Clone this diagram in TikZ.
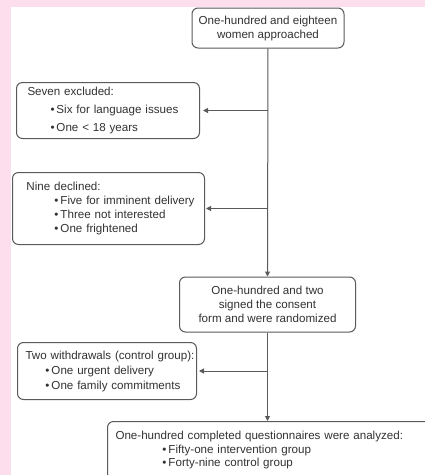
\documentclass[tikz,border=0pt]{standalone}
\usepackage{fontspec}
\setmainfont{Liberation Sans}
\usetikzlibrary{arrows.meta}
\definecolor{pinkbg}{RGB}{252,222,236}
\definecolor{linegray}{RGB}{90,90,90}
\definecolor{textgray}{RGB}{50,50,50}
\newcommand{\bul}{\textbullet\,}
\newcommand{\oneline}[1]{\mbox{#1}}
\hbadness=10000 \hfuzz=100pt
\begin{document}
\begin{tikzpicture}[x=1pt,y=-1pt,
  box/.style={draw=linegray, line width=1pt, rounded corners=6pt, fill=white,
    text=textgray, font=\fontsize{11.6}{14}\selectfont, inner ysep=0pt},
  cbox/.style={box, align=center},
  lbox/.style={box, align=left, anchor=north west},
  arr/.style={draw=linegray, line width=1pt, -{Triangle[length=5pt,width=5pt]}}]
\useasboundingbox (0,0) rectangle (425,475);
\fill[pinkbg] (0,0) rectangle (425,475);
\fill[white] (11,7) rectangle (425,475);

\node[cbox, minimum width=152pt, minimum height=40pt] (b1) at (268,28)
  {One-hundred and eighteen\\women approached};

\node[lbox, minimum width=183pt, minimum height=56pt, text width=161pt, inner xsep=11pt,
  font=\fontsize{11.6}{18}\selectfont] (b2) at (16,82)
  {\oneline{Seven excluded:}\\\oneline{\hspace*{23pt}\bul Six for language issues}\\\oneline{\hspace*{23pt}\bul One < 18 years}};

\node[lbox, minimum width=192pt, minimum height=72pt, text width=164pt, inner xsep=14pt] (b3) at (12,172)
  {\oneline{Nine declined:}\\\oneline{\hspace*{28pt}\bul Five for imminent delivery}\\\oneline{\hspace*{28pt}\bul Three not interested}\\\oneline{\hspace*{28pt}\bul One frightened}};

\node[cbox, minimum width=176pt, minimum height=55pt] (b4) at (267.5,304.5)
  {One-hundred and two\\signed the consent\\form and were randomized};

\node[lbox, minimum width=179pt, minimum height=57pt, text width=163pt, inner xsep=8pt,
  font=\fontsize{11.6}{15}\selectfont] (b5) at (17,342)
  {\oneline{Two withdrawals (control group):}\\\oneline{\hspace*{20pt}\bul One urgent delivery}\\\oneline{\hspace*{20pt}\bul One family commitments}};

\node[lbox, minimum width=330pt, text width=314pt, inner xsep=8pt, inner ysep=10pt,
  font=\fontsize{11.6}{13.5}\selectfont] (b6) at (107,421)
  {\oneline{One-hundred completed questionnaires were analyzed:}\\\oneline{\hspace*{47pt}\bul Fifty-one intervention group}\\\oneline{\hspace*{47pt}\bul Forty-nine control group}\\[20pt]};

\coordinate (j2) at (b1.south |- b2.east);
\coordinate (j3) at (b1.south |- b3.east);
\coordinate (j5) at (b4.south |- b5.east);
\coordinate (j6) at (b4.south |- b6.north);

\draw[arr] (b1.south) -- (b4.north);
\draw[arr] (j2) -- ([xshift=3pt]b2.east);
\draw[arr] (j3) -- ([xshift=1pt]b3.east);
\draw[arr] (b4.south) -- (j6);
\draw[arr] (j5) -- ([xshift=2pt]b5.east);
\end{tikzpicture}
\end{document}
